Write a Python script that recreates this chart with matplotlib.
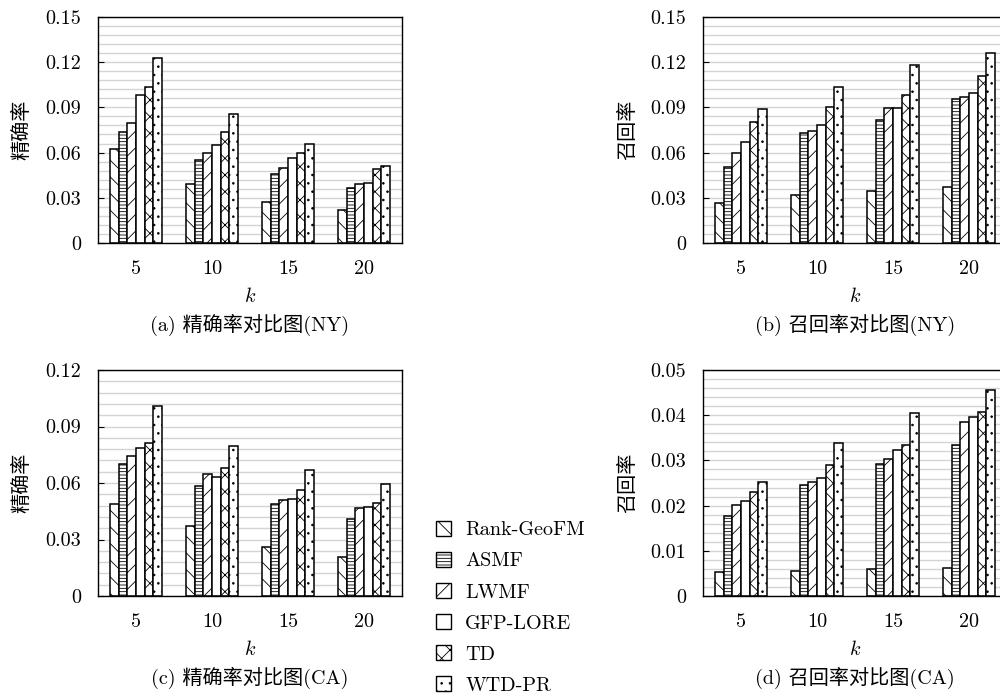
import numpy as np
import matplotlib
matplotlib.use("Agg")
import matplotlib.pyplot as plt
from matplotlib.patches import Patch

plt.rcParams['font.family'] = ['cmr10', 'Noto Sans CJK SC']
plt.rcParams['mathtext.fontset'] = 'cm'
plt.rcParams['axes.unicode_minus'] = False
plt.rcParams['hatch.linewidth'] = 0.6

# ---- data ----
methods = ['Rank-GeoFM', 'ASMF', 'LWMF', 'GFP-LORE', 'TD', 'WTD-PR']
hatches = ['\\\\', '-----', '//', '', 'xx', '..']
k_labels = ['5', '10', '15', '20']

# rows: method, cols: k = 5, 10, 15, 20
prec_ny = [
    [0.0624, 0.0390, 0.0271, 0.0218],
    [0.0735, 0.0551, 0.0461, 0.0366],
    [0.0794, 0.0596, 0.0499, 0.0393],
    [0.0984, 0.0653, 0.0563, 0.0399],
    [0.1032, 0.0735, 0.0596, 0.0492],
    [0.1229, 0.0856, 0.0657, 0.0512],
]
recall_ny = [
    [0.0265, 0.0320, 0.0346, 0.0371],
    [0.0507, 0.0730, 0.0814, 0.0953],
    [0.0596, 0.0743, 0.0893, 0.0966],
    [0.0668, 0.0785, 0.0898, 0.0997],
    [0.0801, 0.0902, 0.0979, 0.1107],
    [0.0889, 0.1034, 0.1180, 0.1264],
]
prec_ca = [
    [0.0487, 0.0372, 0.0261, 0.0205],
    [0.0701, 0.0584, 0.0491, 0.0409],
    [0.0745, 0.0649, 0.0510, 0.0468],
    [0.0785, 0.0630, 0.0514, 0.0475],
    [0.0810, 0.0681, 0.0563, 0.0494],
    [0.1011, 0.0794, 0.0669, 0.0593],
]
recall_ca = [
    [0.0053, 0.0056, 0.0059, 0.0061],
    [0.0178, 0.0246, 0.0293, 0.0334],
    [0.0202, 0.0253, 0.0303, 0.0386],
    [0.0211, 0.0261, 0.0323, 0.0395],
    [0.0231, 0.0289, 0.0335, 0.0407],
    [0.0253, 0.0339, 0.0405, 0.0455],
]

ticks_a = [0, 0.03, 0.06, 0.09, 0.12, 0.15]
labels_a = ['0', '0.03', '0.06', '0.09', '0.12', '0.15']
ticks_c = [0, 0.03, 0.06, 0.09, 0.12]
labels_c = ['0', '0.03', '0.06', '0.09', '0.12']
ticks_d = [0, 0.01, 0.02, 0.03, 0.04, 0.05]
labels_d = ['0', '0.01', '0.02', '0.03', '0.04', '0.05']

panels = [
    (prec_ny, ticks_a, labels_a, '精确率', '(a) 精确率对比图(NY)'),
    (recall_ny, ticks_a, labels_a, '召回率', '(b) 召回率对比图(NY)'),
    (prec_ca, ticks_c, labels_c, '精确率', '(c) 精确率对比图(CA)'),
    (recall_ca, ticks_d, labels_d, '召回率', '(d) 召回率对比图(CA)'),
]

fig = plt.figure(figsize=(10, 6.95), dpi=100)
rects = [
    [0.098, 0.6504, 0.304, 0.3252],
    [0.703, 0.6504, 0.304, 0.3252],
    [0.098, 0.1424, 0.304, 0.3252],
    [0.703, 0.1424, 0.304, 0.3252],
]

FS = 14.5
w = 0.113
x = np.arange(len(k_labels))

for rect, (vals, ticks, tlabels, ylab, cap) in zip(rects, panels):
    ax = fig.add_axes(rect)
    ax.set_axisbelow(True)
    for i, m in enumerate(methods):
        ax.bar(x + (i - 2.5) * w, vals[i], width=w, facecolor='white',
               edgecolor='black', linewidth=1.1, hatch=hatches[i], zorder=2)
    ax.set_xlim(-0.5, 3.5)
    ax.set_ylim(ticks[0], ticks[-1])
    ax.set_yticks(ticks)
    ax.set_yticklabels(tlabels)
    step = (ticks[1] - ticks[0]) / 5
    ax.set_yticks(np.arange(ticks[0], ticks[-1] + step / 2, step), minor=True)
    ax.grid(axis='y', which='both', color='#d4d4d4', linewidth=1.0, zorder=0)
    ax.tick_params(axis='y', which='major', direction='in', length=4,
                   width=0.8, labelsize=FS, pad=12)
    ax.tick_params(axis='y', which='minor', length=0)
    ax.set_xticks(x)
    ax.set_xticklabels(k_labels)
    ax.tick_params(axis='x', length=0, labelsize=FS, pad=12)
    for s in ax.spines.values():
        s.set_linewidth(1.0)
    ax.set_ylabel(ylab, fontsize=FS, labelpad=10)
    ax.set_xlabel('$k$', fontsize=FS, labelpad=7)
    ax.text(0.5, -0.363, cap, transform=ax.transAxes, ha='center', va='center',
            fontsize=FS)

handles = [Patch(facecolor='white', edgecolor='black', hatch=h, linewidth=1.0)
           for h in hatches]
fig.legend(handles, methods, loc='upper left', bbox_to_anchor=(0.436, 1 - 521 / 695),
           frameon=False, fontsize=FS, handlelength=0.75, handleheight=0.75,
           handletextpad=0.7, labelspacing=0.63, borderpad=0, borderaxespad=0)

fig.savefig('out.png', dpi=100)
